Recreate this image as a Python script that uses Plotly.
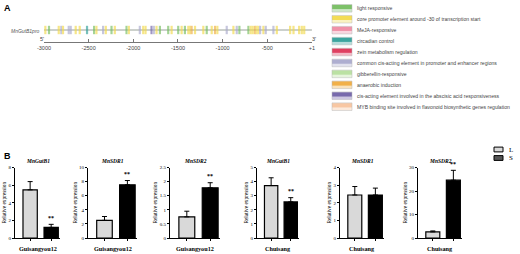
import plotly.graph_objects as go

W, H = 520, 254

# ---------------- Panel A data ----------------
element_labels = [
    "light responsive",
    "core promoter element around -30 of transcription start",
    "MeJA-responsive",
    "circadian control",
    "zein metabolism regulation",
    "common cis-acting element in promoter and enhancer regions",
    "gibberellin-responsive",
    "anaerobic induction",
    "cis-acting element involved in the abscisic acid responsiveness",
    "MYB binding site involved in flavonoid biosynthetic genes regulation",
]
element_colors = ["#74bd5e", "#f2d94a", "#ee8aa2", "#2f9f98", "#dd3355",
                  "#a9a9cc", "#b6df9c", "#efab3c", "#6f5fa6", "#f7c39c"]

motif_pos = [-2985, -2944, -2835, -2806, -2787, -2723, -2701, -2645, -2600, -2518,
             -2439, -2413, -2338, -2308, -2244, -2207, -2076, -2050, -1927, -1889,
             -1863, -1796, -1770, -1740, -1702, -1609, -1571, -1497, -1459, -1422,
             -1384, -1366, -1347, -1309, -1216, -1178, -1122, -1085, -1059, -954,
             -879, -842, -812, -711, -685, -662, -636, -618, -599, -580,
             -543, -517, -431, -393, -244, -206, -143, -113, -86]
motif_type = [1, 0, 1, 5, 1, 5, 5, 1, 1, 3,
              0, 1, 5, 1, 0, 1, 0, 1, 5, 1,
              1, 8, 5, 1, 0, 0, 1, 0, 1, 0,
              1, 1, 7, 1, 1, 0, 1, 7, 1, 5,
              1, 5, 0, 0, 1, 1, 7, 1, 1, 5,
              1, 5, 5, 1, 1, 1, 1, 1, 1]
track_ticks = [-3000, -2500, -2000, -1500, -1000, -500, 1]
track_ticktext = ["-3000", "-2500", "-2000", "-1500", "-1000", "-500", "+1"]

# ---------------- Panel B data ----------------
groups = ["L", "S"]
chart_titles = ["MnGutB1", "MnSDR1", "MnSDR2", "MnGutB1", "MnSDR1", "MnSDR2"]
chart_cultivar = ["Guisangyou12", "Guisangyou12", "Guisangyou12", "Chuisang", "Chuisang", "Chuisang"]
L_mean = [5.47, 2.5, 0.75, 3.72, 2.44, 2.6]
L_err = [0.93, 0.55, 0.2, 0.55, 0.48, 0.4]
S_mean = [1.2, 7.55, 1.78, 2.56, 2.44, 24.6]
S_err = [0.35, 0.6, 0.18, 0.3, 0.39, 4.2]
signif = ["**", "**", "**", "**", "", "**"]
y_max = [8, 10, 2.5, 5, 4, 30]
y_dtick = [2, 2, 0.5, 1, 1, 10]

fig = go.Figure()

# ---------------- Panel A: promoter track ----------------
fig.add_trace(go.Scatter(x=[-3000, 0], y=[0, 0], mode="lines",
                         line=dict(color="#9aa39a", width=1),
                         xaxis="x7", yaxis="y7", showlegend=False, hoverinfo="skip"))
fig.add_trace(go.Scatter(
    x=motif_pos, y=[0] * len(motif_pos), mode="markers",
    marker=dict(symbol="line-ns", size=6,
                line=dict(width=2.2, color=[element_colors[t] for t in motif_type])),
    opacity=0.65, xaxis="x7", yaxis="y7", showlegend=False, hoverinfo="skip"))

serif = "Liberation Serif"
sans = "Liberation Sans"

layout = dict(
    template="none",
    width=W, height=H, margin=dict(l=0, r=0, t=0, b=0, autoexpand=False),
    paper_bgcolor="white", plot_bgcolor="white", showlegend=False,
    font=dict(color="black"),
    xaxis7=dict(domain=[44 / W, 312 / W], range=[-3000, 1], anchor="y7",
                showline=True, linecolor="#777", linewidth=1, automargin=False,
                tickvals=track_ticks, ticktext=track_ticktext, ticks="inside",
                ticklen=3, tickcolor="#777", showgrid=False, zeroline=False,
                tickfont=dict(family=sans, size=5.5, color="#444")),
    yaxis7=dict(domain=[1 - 42 / H, 1 - 18 / H], range=[-1, 1], anchor="x7",
                visible=False, automargin=False),
)

annotations = []
shapes = []

annotations.append(dict(text="<b>A</b>", x=2 / W, y=1 - 1 / H, xref="paper", yref="paper",
                        xanchor="left", yanchor="top", showarrow=False,
                        font=dict(family=sans, size=9, color="black")))
annotations.append(dict(text="<b>B</b>", x=2 / W, y=1 - 149 / H, xref="paper", yref="paper",
                        xanchor="left", yanchor="top", showarrow=False,
                        font=dict(family=sans, size=9, color="black")))
annotations.append(dict(text="<i>MnGutB1pro</i>", x=9 / W, y=1 - 31 / H, xref="paper",
                        yref="paper", xanchor="left", yanchor="middle", showarrow=False,
                        font=dict(family=sans, size=5, color="#555")))
annotations.append(dict(text="5'", x=42 / W, y=1 - 39 / H, xref="paper", yref="paper",
                        xanchor="center", yanchor="middle", showarrow=False,
                        font=dict(family=sans, size=5.5, color="#444")))
annotations.append(dict(text="3'", x=314 / W, y=1 - 39 / H, xref="paper", yref="paper",
                        xanchor="center", yanchor="middle", showarrow=False,
                        font=dict(family=sans, size=5.5, color="#444")))

# Panel A legend
for i, (lab, col) in enumerate(zip(element_labels, element_colors)):
    yc = 8.3 + i * 10.93
    y0, y1 = yc - 3.8, yc + 3.8
    shapes.append(dict(type="rect", xref="paper", yref="paper",
                       x0=332 / W, x1=352 / W, y0=1 - y1 / H, y1=1 - y0 / H,
                       fillcolor=col, opacity=0.35, line=dict(width=0)))
    shapes.append(dict(type="rect", xref="paper", yref="paper",
                       x0=332 / W, x1=352 / W, y0=1 - (yc + 0.8) / H, y1=1 - (y0 + 0.3) / H,
                       fillcolor=col, opacity=0.9, line=dict(width=0)))
    shapes.append(dict(type="rect", xref="paper", yref="paper",
                       x0=332 / W, x1=352 / W, y0=1 - y1 / H, y1=1 - y0 / H,
                       fillcolor="rgba(0,0,0,0)", line=dict(width=0.5, color="#bbb")))
    annotations.append(dict(text=lab, x=355 / W, y=1 - yc / H, xref="paper", yref="paper",
                            xanchor="left", yanchor="middle", showarrow=False,
                            font=dict(family=sans, size=5.1, color="#444")))

# ---------------- Panel B: bar charts ----------------
x_doms = [(15, 60), (88, 137), (170, 220), (257, 299), (340, 384), (418, 462)]
y_dom = [1 - 238 / H, 1 - 167.5 / H]
for k in range(6):
    n = k + 1
    xa, ya = f"x{n}", f"y{n}"
    xd = x_doms[k]
    fig.add_trace(go.Bar(
        x=[0, 1], y=[L_mean[k], S_mean[k]], width=0.68,
        marker=dict(color=["#d9d9d9", "#000000"], line=dict(color="black", width=1.2)),
        error_y=dict(type="data", symmetric=False, array=[L_err[k], S_err[k]],
                     arrayminus=[0, 0], color="black", thickness=1, width=2.5),
        xaxis=xa, yaxis=ya, showlegend=False, hoverinfo="skip"))
    layout[f"xaxis{n}" if n > 1 else "xaxis"] = dict(
        domain=[xd[0] / W, xd[1] / W], range=[-0.72, 1.42], anchor=ya,
        showline=True, linecolor="black", linewidth=1, tickvals=[0, 1],
        ticktext=["", ""], ticks="outside", ticklen=2, tickcolor="black",
        showgrid=False, zeroline=False, fixedrange=True, automargin=False)
    layout[f"yaxis{n}" if n > 1 else "yaxis"] = dict(
        domain=y_dom, range=[0, y_max[k]], anchor=xa, dtick=y_dtick[k], tick0=0,
        showline=True, linecolor="black", linewidth=1, ticks="outside", ticklen=2,
        tickcolor="black", showgrid=False, zeroline=False, automargin=False,
        tickfont=dict(family=serif, size=5, color="black"),
        title=dict(text="Relative expression", standoff=1,
                   font=dict(family=serif, size=5.3, color="black")))
    xc = (xd[0] + xd[1]) / 2 / W
    annotations.append(dict(text=f"<b><i>{chart_titles[k]}</i></b>", x=xc, y=y_dom[1] + 2 / H,
                            xref="paper", yref="paper", xanchor="center", yanchor="bottom",
                            showarrow=False, font=dict(family=serif, size=5.5, color="black")))
    annotations.append(dict(text=f"<b>{chart_cultivar[k]}</b>", x=xc, y=1 - 248 / H,
                            xref="paper", yref="paper", xanchor="center", yanchor="middle",
                            showarrow=False, font=dict(family=serif, size=6.2, color="black")))
    if signif[k]:
        annotations.append(dict(text=f"<b>{signif[k]}</b>", x=1, y=S_mean[k] + S_err[k],
                                xref=xa, yref=ya, xanchor="center", yanchor="bottom",
                                yshift=1.5, showarrow=False,
                                font=dict(family=serif, size=6, color="black")))

# L / S legend
legend_fill = ["#d9d9d9", "#555555"]
for i, (g, c) in enumerate(zip(groups, legend_fill)):
    yc = 149.5 + i * 8.5
    shapes.append(dict(type="rect", xref="paper", yref="paper",
                       x0=494 / W, x1=503 / W, y0=1 - (yc + 2.4) / H, y1=1 - (yc - 2.4) / H,
                       fillcolor=c, line=dict(width=1, color="black")))
    annotations.append(dict(text=g, x=507 / W, y=1 - yc / H, xref="paper", yref="paper",
                            xanchor="left", yanchor="middle", showarrow=False,
                            font=dict(family=serif, size=7, color="black")))

layout["annotations"] = annotations
layout["shapes"] = shapes
fig.update_layout(**layout)
fig.write_html("out.html", config={"displayModeBar": False, "staticPlot": True},
               post_script="document.body.style.margin='0';document.body.style.overflow='hidden';")
